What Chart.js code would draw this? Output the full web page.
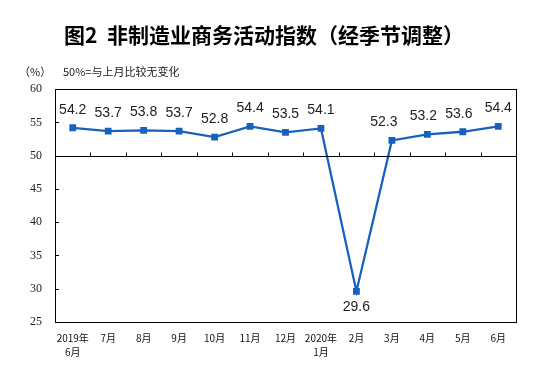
<!DOCTYPE html>
<html>
<head>
<meta charset="utf-8">
<script src="https://cdn.jsdelivr.net/npm/chart.js@4/dist/chart.umd.min.js"></script>
<style>
html,body{margin:0;padding:0;background:#fff;}
#wrap{width:551px;height:365px;position:relative;}
</style>
</head>
<body>
<div id="wrap"><canvas id="c" width="551" height="365"></canvas></div>
<script>
const categories = [["2019年","6月"],"7月","8月","9月","10月","11月","12月",["2020年","1月"],"2月","3月","4月","5月","6月"];
const values = [54.2, 53.7, 53.8, 53.7, 52.8, 54.4, 53.5, 54.1, 29.6, 52.3, 53.2, 53.6, 54.4];
const yTicks = [25, 30, 35, 40, 45, 50, 55, 60];
const titleText = "图2  非制造业商务活动指数（经季节调整）";
const unitText = "（%）";
const noteText = "50%=与上月比较无变化";
const baseline = 50;

const lineColor = "#1662bd";
const labelBelow = [8];
const labelDx = {9: -8, 10: -4, 11: -4};

const decor = {
  id: 'decor',
  afterDraw(chart) {
    const ctx = chart.ctx;
    const a = chart.chartArea;
    const x = chart.scales.x, y = chart.scales.y;
    ctx.save();
    // unit + note
    ctx.fillStyle = '#222';
    ctx.font = '11px "Noto Sans CJK SC"';
    ctx.textBaseline = 'middle';
    ctx.textAlign = 'left';
    ctx.fillText(unitText, 19, 72);
    ctx.fillText(noteText, 63, 72);
    // border
    ctx.strokeStyle = '#000';
    ctx.lineWidth = 1;
    ctx.strokeRect(Math.round(a.left) + 0.5, Math.round(a.top) + 0.5, Math.round(a.right - a.left), Math.round(a.bottom - a.top));
    // baseline
    const by = Math.round(y.getPixelForValue(baseline)) + 0.5;
    ctx.beginPath();
    ctx.moveTo(a.left, by); ctx.lineTo(a.right, by);
    // category boundary ticks on baseline
    for (let i = 1; i < categories.length; i++) {
      const px = Math.round((x.getPixelForValue(i - 1) + x.getPixelForValue(i)) / 2) + 0.5;
      ctx.moveTo(px, by); ctx.lineTo(px, by - 4);
    }
    // y ticks inward
    yTicks.forEach(v => {
      const py = Math.round(y.getPixelForValue(v)) + 0.5;
      ctx.moveTo(a.left, py); ctx.lineTo(a.left + 4, py);
    });
    ctx.stroke();
    // data labels
    const meta = chart.getDatasetMeta(0);
    ctx.font = '14px "Liberation Sans", Arial, sans-serif';
    ctx.fillStyle = '#222';
    ctx.textAlign = 'center';
    ctx.textBaseline = 'middle';
    meta.data.forEach((pt, i) => {
      const below = labelBelow.includes(i);
      const dx = labelDx[i] || 0;
      ctx.fillText(values[i].toFixed(1), pt.x + dx, below ? pt.y + 16 : pt.y - 18);
    });
    ctx.restore();
  }
};

new Chart(document.getElementById('c'), {
  type: 'line',
  data: {
    labels: categories,
    datasets: [{
      data: values,
      borderColor: lineColor,
      backgroundColor: lineColor,
      borderWidth: 2.3,
      pointStyle: 'rect',
      pointRadius: 3.2,
      pointHoverRadius: 3.2,
      tension: 0,
      fill: false
    }]
  },
  options: {
    responsive: false,
    animation: false,
    layout: { padding: { left: 0, right: 23, top: 0, bottom: 0 } },
    plugins: {
      legend: { display: false },
      tooltip: { enabled: false },
      title: {
        display: true,
        text: titleText,
        color: '#000',
        font: { family: '"Noto Sans CJK SC"', size: 21, weight: 'bold', lineHeight: 1.2 },
        padding: { top: 22, bottom: 42 }
      }
    },
    scales: {
      x: {
        type: 'category',
        offset: true,
        grid: { display: false, drawTicks: false },
        border: { display: false },
        ticks: {
          autoSkip: false, maxRotation: 0, minRotation: 0, padding: 9,
          color: '#111',
          font: { family: '"Noto Sans CJK SC"', size: 10, lineHeight: 1.4 }
        },
        afterFit(s) { s.height = 43; }
      },
      y: {
        min: 25, max: 60,
        afterBuildTicks(s) { s.ticks = yTicks.map(v => ({ value: v })); },
        grid: { display: false, drawTicks: false },
        border: { display: false },
        ticks: {
          padding: 13,
          color: '#222',
          font: { family: '"Liberation Serif", serif', size: 12 }
        },
        afterFit(s) { s.width = 55; }
      },
      yRight: {
        position: 'right',
        min: 25, max: 60,
        grid: { display: false, drawTicks: false },
        border: { display: false },
        ticks: { display: false },
        afterFit(s) { s.width = 12; }
      }
    }
  },
  plugins: [decor]
});
</script>
</body>
</html>
